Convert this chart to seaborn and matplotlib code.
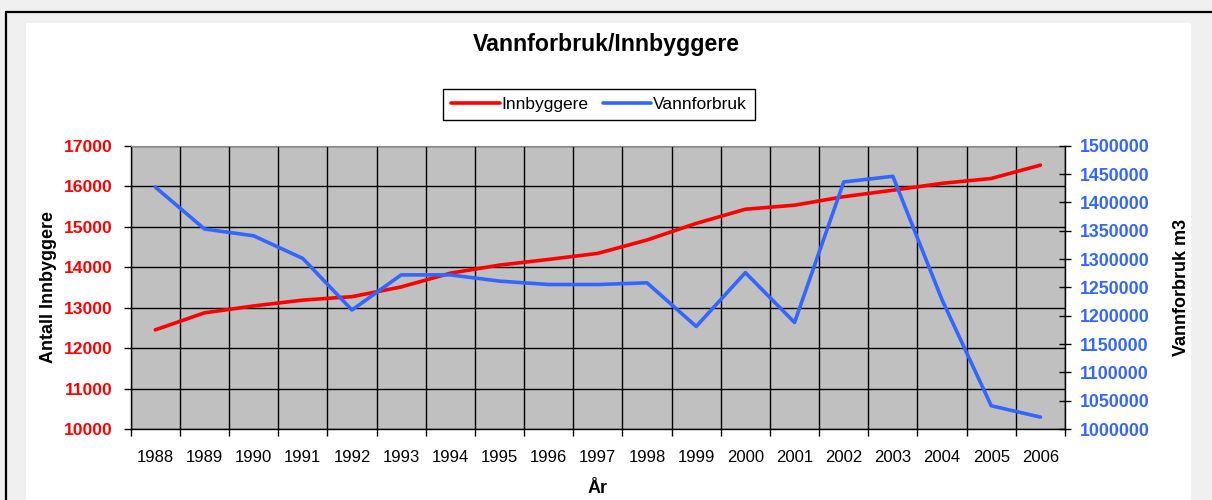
import numpy as np
import pandas as pd
import matplotlib
matplotlib.use("Agg")
import matplotlib.pyplot as plt
from matplotlib.patches import Rectangle
from matplotlib.lines import Line2D
from matplotlib.ticker import FixedLocator, NullFormatter, FixedFormatter
import seaborn as sns

# Yearly population and water consumption
years = [str(y) for y in range(1988, 2007)]
innbyggere = [12450, 12870, 13040, 13185, 13270, 13510, 13850, 14050, 14190,
              14340, 14670, 15080, 15430, 15530, 15740, 15900, 16070, 16190, 16520]
vannforbruk = [1427000, 1353000, 1341000, 1301000, 1210000, 1272000, 1272000,
               1261000, 1255000, 1255000, 1258000, 1181000, 1276000, 1188000,
               1436000, 1446000, 1228000, 1041000, 1021000]

left_ticks = list(range(10000, 17001, 1000))
right_ticks = list(range(1000000, 1500001, 50000))

RED = "#ff0000"
BLUE = "#3366ff"

df = pd.DataFrame({"pos": np.arange(len(years)),
                   "Innbyggere": innbyggere,
                   "Vannforbruk": vannforbruk})

sns.set_style("white")
plt.rcParams["font.family"] = ["Liberation Sans", "DejaVu Sans"]
plt.rcParams["text.color"] = "black"
plt.rcParams["axes.labelcolor"] = "black"

W, H = 1212, 500
fig = plt.figure(figsize=(W / 100, H / 100), dpi=100, facecolor="#f0f0f0")

# Chart frame: white chart area with a dark border line on top and left
fig.patches.append(Rectangle((26 / W, 0), (1191 - 26) / W, 1 - 23 / H,
                             transform=fig.transFigure, facecolor="white",
                             edgecolor="none", zorder=-5))
fig.lines.append(Line2D([6 / W, 1], [1 - 12 / H, 1 - 12 / H],
                        transform=fig.transFigure, color="black", lw=1.6,
                        zorder=-4))
fig.lines.append(Line2D([6 / W, 6 / W], [0, 1 - 12 / H],
                        transform=fig.transFigure, color="black", lw=1.6,
                        zorder=-4))

x0, x1 = 130.7, 1065
y0, y1 = 145.7, 429
ax = fig.add_axes([x0 / W, 1 - y1 / H, (x1 - x0) / W, (y1 - y0) / H])
ax.set_facecolor("#c0c0c0")

sns.lineplot(data=df, x="pos", y="Innbyggere", ax=ax, color=RED,
             linewidth=2.6, legend=False, zorder=3)

ax2 = ax.twinx()
sns.lineplot(data=df, x="pos", y="Vannforbruk", ax=ax2, color=BLUE,
             linewidth=2.6, legend=False, zorder=3)

n = len(years)
ax.set_xlim(-0.5, n - 0.5)
ax.set_ylim(left_ticks[0], left_ticks[-1])
ax2.set_ylim(right_ticks[0], right_ticks[-1])

# Category axis: ticks and grid at boundaries, labels at centres
bounds = np.arange(n + 1) - 0.5
ax.xaxis.set_major_locator(FixedLocator(bounds))
ax.xaxis.set_major_formatter(NullFormatter())
ax.xaxis.set_minor_locator(FixedLocator(np.arange(n)))
ax.xaxis.set_minor_formatter(FixedFormatter(years))
ax.tick_params(axis="x", which="major", direction="out", length=5, width=1,
               color="black", bottom=True)
ax.tick_params(axis="x", which="minor", length=0, labelsize=12, pad=15,
               labelcolor="black")

ax.set_yticks(left_ticks)
ax.set_yticklabels([str(v) for v in left_ticks])
ax.tick_params(axis="y", direction="out", length=5, width=1, color="black",
               labelsize=12.6, labelcolor=RED, pad=8, left=True)
for t in ax.get_yticklabels():
    t.set_fontweight("bold")

ax2.set_yticks(right_ticks)
ax2.set_yticklabels([str(v) for v in right_ticks])
ax2.tick_params(axis="y", direction="inout", length=9, width=1, color="black",
                labelsize=12.8, labelcolor=BLUE, pad=6, right=True)
for t in ax2.get_yticklabels():
    t.set_fontweight("bold")

ax.grid(True, which="major", color="black", linewidth=1.0)
ax.set_axisbelow(True)

for side in ("left", "bottom"):
    ax.spines[side].set_color("black")
    ax.spines[side].set_linewidth(1.0)
ax.spines["top"].set_color("#888888")
ax.spines["top"].set_linewidth(0.8)
ax.spines["right"].set_visible(False)
for side in ("left", "top", "bottom"):
    ax2.spines[side].set_visible(False)
ax2.spines["right"].set_color("black")
ax2.spines["right"].set_linewidth(1.0)

ax.set_xlabel("År", fontsize=13, fontweight="bold", labelpad=11)
ax.set_ylabel("Antall Innbyggere", fontsize=13, fontweight="bold", labelpad=5)
ax2.set_ylabel("Vannforbruk m3", fontsize=13, fontweight="bold", labelpad=17)

fig.text(606 / W, 1 - 45 / H, "Vannforbruk/Innbyggere", ha="center",
         va="center", fontsize=16.7, fontweight="bold")

handles = [Line2D([], [], color=RED, lw=2.6), Line2D([], [], color=BLUE, lw=2.6)]
leg = fig.legend(handles, ["Innbyggere", "Vannforbruk"], loc="center",
                 bbox_to_anchor=(599 / W, 1 - 104.5 / H), ncol=2,
                 fontsize=12.5, frameon=True, fancybox=False, framealpha=1,
                 edgecolor="black", handlelength=2.8, handletextpad=0.1,
                 columnspacing=0.8, borderpad=0.45)
leg.get_frame().set_linewidth(1.0)

fig.savefig("out.png", dpi=100, facecolor=fig.get_facecolor())
